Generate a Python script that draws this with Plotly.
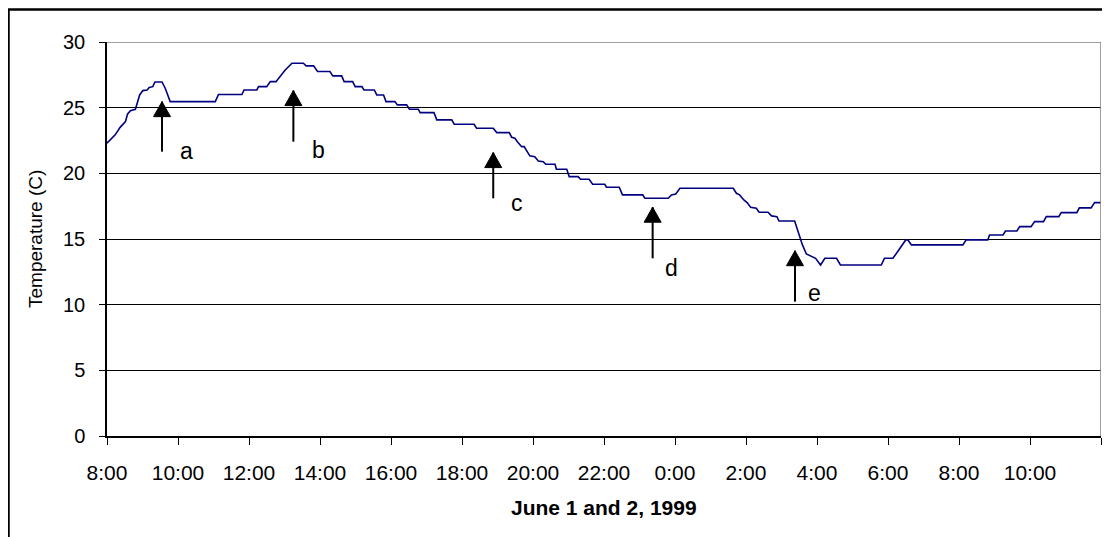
import plotly.graph_objects as go

# Hours elapsed since 8:00 on June 1, 1999
time_h = [0.00, 0.14, 0.23, 0.37, 0.52, 0.58, 0.66, 0.80, 0.84, 0.92, 1.01, 1.13, 1.19, 1.29,
          1.35, 1.55, 1.64, 1.78, 3.05, 3.14, 3.80, 3.86, 4.22, 4.27, 4.50, 4.60, 4.76, 4.93,
          5.02, 5.21, 5.53, 5.61, 5.82, 5.93, 6.28, 6.36, 6.61, 6.68, 6.92, 6.99, 7.18, 7.24,
          7.53, 7.60, 7.79, 7.86, 8.11, 8.18, 8.44, 8.52, 8.77, 8.82, 9.21, 9.29, 9.71, 9.78,
          10.34, 10.41, 10.88, 10.98, 11.33, 11.40, 11.49, 11.56, 11.68, 11.75, 11.91, 12.05,
          12.15, 12.29, 12.36, 12.62, 12.66, 12.95, 13.02, 13.27, 13.34, 13.58, 13.68, 14.02,
          14.07, 14.43, 14.52, 15.09, 15.15, 15.81, 15.90, 16.02, 16.14, 17.64, 17.73, 17.82,
          17.94, 18.03, 18.13, 18.29, 18.37, 18.62, 18.72, 18.87, 18.93, 19.37, 19.47, 19.59,
          19.70, 19.84, 19.96, 20.10, 20.22, 20.55, 20.66, 21.81, 21.90, 22.14, 22.25, 22.38,
          22.50, 22.56, 22.66, 24.11, 24.20, 24.81, 24.86, 25.24, 25.31, 25.63, 25.71, 26.03,
          26.13, 26.38, 26.46, 26.81, 26.88, 27.32, 27.39, 27.72, 27.82, 28.00]
temp_c = [22.30, 22.67, 22.93, 23.50, 23.94, 24.52, 24.77, 24.88, 25.20, 25.97, 26.30, 26.35, 26.53, 26.60,
          26.96, 26.96, 26.48, 25.46, 25.46, 26.00, 26.00, 26.35, 26.35, 26.60, 26.60, 26.98, 26.98, 27.62,
          27.87, 28.38, 28.38, 28.18, 28.18, 27.75, 27.75, 27.42, 27.42, 26.98, 26.98, 26.60, 26.60, 26.35,
          26.35, 25.97, 25.97, 25.46, 25.46, 25.21, 25.21, 24.88, 24.88, 24.62, 24.62, 24.07, 24.07, 23.74,
          23.74, 23.43, 23.43, 23.10, 23.10, 22.75, 22.67, 22.41, 22.03, 22.03, 21.33, 21.27,
          20.94, 20.89, 20.69, 20.69, 20.31, 20.31, 19.75, 19.75, 19.55, 19.55, 19.17, 19.17,
          18.94, 18.94, 18.36, 18.36, 18.10, 18.10, 18.36, 18.43, 18.86, 18.86, 18.48, 18.36,
          17.97, 17.77, 17.42, 17.34, 17.04, 17.04, 16.76, 16.70, 16.37, 16.37, 15.48, 14.55,
          13.86, 13.71, 13.53, 13.02, 13.53, 13.53, 13.02, 13.02, 13.53, 13.53, 13.96, 14.55,
          14.93, 14.93, 14.55, 14.55, 14.93, 14.93, 15.31, 15.31, 15.61, 15.61, 15.94, 15.94,
          16.32, 16.32, 16.70, 16.70, 17.01, 17.01, 17.37, 17.37, 17.77, 17.77]

tick_hours = [0, 2, 4, 6, 8, 10, 12, 14, 16, 18, 20, 22, 24, 26, 28]
tick_labels = ["8:00", "10:00", "12:00", "14:00", "16:00", "18:00", "20:00", "22:00",
               "0:00", "2:00", "4:00", "6:00", "8:00", "10:00", ""]

# Event arrows
arrow_labels = ["a", "b", "c", "d", "e"]
arrow_time = [1.55, 5.25, 10.88, 15.37, 19.38]
arrow_tip = [25.46, 26.30, 21.58, 17.42, 14.11]
arrow_tail = [21.65, 22.41, 18.10, 13.53, 10.23]
label_time = [2.23, 5.95, 11.54, 15.90, 19.94]
label_temp = [21.70, 21.78, 17.75, 12.80, 10.90]

FONT = "Liberation Sans, Arial, sans-serif"

# figure is placed at (8, 8) in the page by the default body margin
W, H = 1102, 529
L, R, T, B = 99, 9, 34, 101
PW, PH = W - L - R, H - T - B

fig = go.Figure()
fig.add_trace(go.Scatter(x=time_h, y=temp_c, mode="lines",
                         line=dict(color="#000080", width=1.6), hoverinfo="skip",
                         showlegend=False))

shapes = []
# plot-area border (top/right) in gray
shapes.append(dict(type="line", xref="x", yref="y", x0=0, x1=28, y0=30, y1=30,
                   line=dict(color="#808080", width=1.5)))
shapes.append(dict(type="line", xref="x", yref="y", x0=28, x1=28, y0=0, y1=30,
                   line=dict(color="#808080", width=1.5)))
# outer frame
shapes.append(dict(type="rect", xref="paper", yref="paper",
                   x0=(0.5 - L) / PW, x1=1.05, y0=-0.35, y1=(PH + T - 1.5) / PH,
                   line=dict(color="black", width=2.5), fillcolor="rgba(0,0,0,0)"))

annotations = []
for lab, t, tip, tail, lt, ly in zip(arrow_labels, arrow_time, arrow_tip, arrow_tail,
                                     label_time, label_temp):
    shapes.append(dict(type="line", xref="x", yref="y", x0=t, x1=t, y0=tail, y1=tip,
                       line=dict(color="black", width=2)))
    shapes.append(dict(type="path", xref="x", yref="y", xsizemode="pixel",
                       ysizemode="pixel", xanchor=t, yanchor=tip,
                       path="M0,0 L-8.5,-15 L8.5,-15 Z",
                       fillcolor="black", line=dict(color="black", width=1)))
    annotations.append(dict(x=lt, y=ly, xref="x", yref="y", text=lab, showarrow=False,
                            font=dict(family=FONT, size=23, color="black"),
                            xanchor="center", yanchor="middle"))

annotations.append(dict(x=(27 - L) / PW, y=0.5, xref="paper", yref="paper",
                        text="Temperature (C)", textangle=-90, showarrow=False,
                        font=dict(family=FONT, size=19, color="black"),
                        xanchor="center", yanchor="middle"))
annotations.append(dict(x=0.5, y=(PH + T - 499) / PH, xref="paper", yref="paper",
                        text="<b>June 1 and 2, 1999</b>", showarrow=False,
                        font=dict(family=FONT, size=21, color="black"),
                        xanchor="center", yanchor="middle"))

fig.update_layout(
    width=W, height=H,
    margin=dict(l=L, r=R, t=T, b=B),
    paper_bgcolor="white", plot_bgcolor="white",
    font=dict(family=FONT, color="black"),
    shapes=shapes, annotations=annotations,
    xaxis=dict(range=[0, 28], tickmode="array", tickvals=tick_hours, ticktext=tick_labels,
               showgrid=False, zeroline=False, showline=True, linecolor="black",
               linewidth=1.5, ticks="outside", ticklen=7, tickcolor="black", tickwidth=1,
               tickfont=dict(family=FONT, size=21, color="black"), ticklabelstandoff=10),
    yaxis=dict(range=[0, 30], tick0=0, dtick=5, showgrid=True, gridcolor="black",
               gridwidth=1, zeroline=False, showline=True, linecolor="black",
               linewidth=1.5, ticks="outside", ticklen=6, tickcolor="black", tickwidth=1,
               tickfont=dict(family=FONT, size=20, color="black"), ticklabelstandoff=10),
)

fig.write_html("out.html")
